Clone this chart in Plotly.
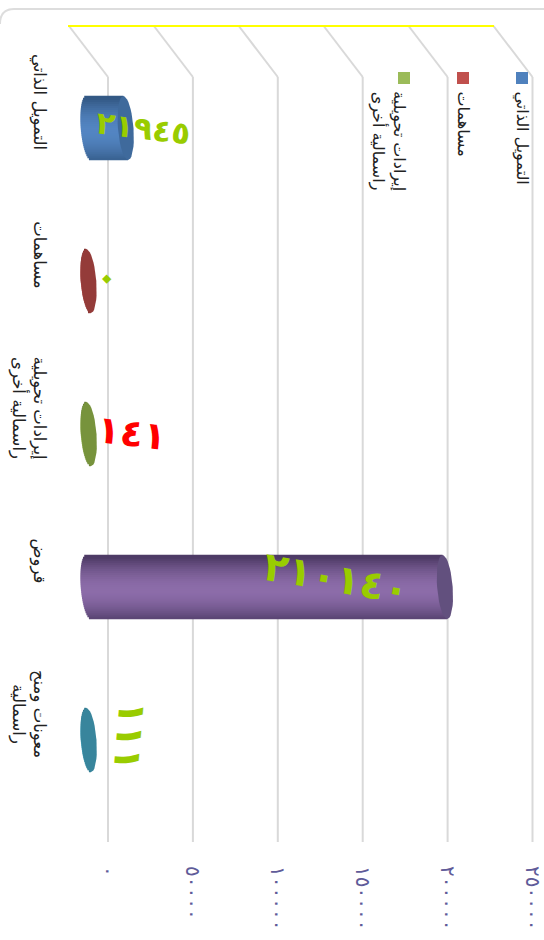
import math
import plotly.graph_objects as go

# ---- data ----
categories = ["التمويل الذاتي", "مساهمات", "إيرادات تحويلية<br>راسمالية أخرى", "قروض", "معونات ومنح<br>راسمالية"]
values = [21945, 0, 141, 210140, 111]
tick_values = [0, 50000, 100000, 150000, 200000, 250000]
legend_labels = categories[:3]

# ---- styles ----
body_mid = ["#5385C2", "#C0504D", "#9BBB59", "#8C6CA9", "#4BACC6"]
body_edge = ["#335985", "#7F3331", "#5F7530", "#4E3B66", "#276F82"]
cap_color = ["#3F6A9C", "#943B39", "#77933C", "#62507E", "#38859C"]
legend_colors = ["#4F81BD", "#C0504D", "#9BBB59"]
label_colors = ["#99CC00", "#99CC00", "#FF0000", "#99CC00", "#99CC00"]
label_sizes = [31, 38, 38, 40, 38]
label_angles = [7, 45, 7, 10, 95]
label_shift_px = [(18, 0), (19.5, 4), (43, 1), (-109, 9), (41, 4)]
FONT = "DejaVu Sans"
W, H = 544, 940
AR = str.maketrans("0123456789", "٠١٢٣٤٥٦٧٨٩")


def ar(n):
    return str(n).translate(AR)


def px(x):
    return x / W


def py(y):
    return 1 - y / H


def lerp_hex(a, b, f):
    ca = [int(a[i:i + 2], 16) for i in (1, 3, 5)]
    cb = [int(b[i:i + 2], 16) for i in (1, 3, 5)]
    return "#%02x%02x%02x" % tuple(round(p + (q - p) * f) for p, q in zip(ca, cb))


UNITS_PER_PX = 250000 / 424.0
BAND_PX = 153.0
RX = 7.8 * UNITS_PER_PX
SKEW = 2.4 * UNITS_PER_PX
RY = 32.0 / BAND_PX
STRIPS = 32

b_y, b_x, b_base, b_w, b_col = [], [], [], [], []
for i, v in enumerate(values):
    for k in range(STRIPS):
        t = -1 + (2 * k + 1) / STRIPS
        left = SKEW * t - RX * math.sqrt(max(0, 1 - t * t))
        right = v + SKEW * t
        b_y.append(i + t * RY)
        b_base.append(left)
        b_x.append(right - left)
        b_w.append(2 * RY / STRIPS * 1.2)
        b_col.append(lerp_hex(body_edge[i], body_mid[i], 1 - min(1, abs(t - 0.1)) ** 1.8))

fig = go.Figure()
# grid plane (first subplot, behind the bars)
fig.add_trace(go.Scatter(x=tick_values, y=[0] * len(tick_values), mode="markers", marker=dict(opacity=0),
                         xaxis="x", yaxis="y", hoverinfo="skip", showlegend=False))
fig.add_trace(go.Bar(y=b_y, x=b_x, base=b_base, width=b_w, orientation="h", marker=dict(color=b_col, line=dict(width=0)),
                     xaxis="x2", yaxis="y2", hoverinfo="skip", showlegend=False))
for i, v in enumerate(values):
    ts = [j / 40 * 2 * math.pi for j in range(41)]
    fig.add_trace(go.Scatter(
        x=[v + RX * math.cos(a) + SKEW * math.sin(a) for a in ts],
        y=[i + RY * math.sin(a) for a in ts],
        mode="lines", fill="toself", fillcolor=cap_color[i], line=dict(width=0),
        xaxis="x2", yaxis="y2", hoverinfo="skip", showlegend=False))

shapes = []
GRID = "#D9D9D9"
for tv in tick_values:
    shapes.append(dict(type="line", layer="below", xref="x", x0=tv, x1=tv, yref="paper", y0=py(842), y1=py(77),
                       line=dict(color=GRID, width=2)))
    shapes.append(dict(type="line", layer="below", xref="x", xsizemode="pixel", xanchor=tv, x0=-39, x1=0,
                       yref="paper", ysizemode="pixel", yanchor=py(77), y0=51, y1=0,
                       line=dict(color=GRID, width=2)))
shapes.append(dict(type="line", layer="below", xref="paper", yref="paper", x0=px(68), x1=px(494), y0=py(26), y1=py(26),
                   line=dict(color="#FFFF00", width=2)))
# chart frame
shapes.append(dict(type="path", layer="below", xref="paper", yref="paper",
                   path=f"M {px(0)},{py(24)} Q {px(0)},{py(9)} {px(14)},{py(9)} L {px(544)},{py(9)}",
                   line=dict(color="#DDDDDD", width=2)))

annotations = []
for i, v in enumerate(values):
    dx, dy = label_shift_px[i]
    annotations.append(dict(text="<b>" + ar(v) + "</b>", x=v, y=i, xref="x2", yref="y2", xshift=dx, yshift=dy,
                            showarrow=False, textangle=label_angles[i],
                            font=dict(family=FONT, size=label_sizes[i], color=label_colors[i])))

legend_x = [521, 463, 388]
legend_sw = [522, 463, 404]
for lab, col, lx, sx in zip(legend_labels, legend_colors, legend_x, legend_sw):
    shapes.append(dict(type="rect", xref="paper", yref="paper", x0=px(sx - 6), x1=px(sx + 6), y0=py(84), y1=py(72),
                       fillcolor=col, line=dict(width=0)))
    annotations.append(dict(text=lab, xref="paper", yref="paper", x=px(lx), y=py(89), xanchor="center", yanchor="top",
                            showarrow=False, textangle=90, font=dict(family=FONT, size=16, color="#222222")))

LEFT_PX = 18.5 * UNITS_PER_PX
GRID_UNITS = 250000 / 424.5
fig.update_layout(
    width=W, height=H, margin=dict(l=0, r=0, t=0, b=0, autoexpand=False), paper_bgcolor="white",
    plot_bgcolor="rgba(0,0,0,0)",
    showlegend=False, barmode="overlay", shapes=shapes, annotations=annotations,
    xaxis=dict(domain=[px(60), px(540)], range=[-48 * GRID_UNITS, 250000 + 7.5 * GRID_UNITS], tickmode="array",
               tickvals=tick_values,
               ticktext=[ar(t) for t in tick_values], tickangle=90, showgrid=False, ticklabeloverflow="allow",
               zeroline=False, showline=False, ticks="outside", ticklen=19, tickcolor="rgba(0,0,0,0)",
               tickfont=dict(family=FONT, size=20, color="#5F5B99"), anchor="y"),
    yaxis=dict(domain=[py(842), py(77)], range=[0, 1], visible=False, anchor="x"),
    xaxis2=dict(domain=[px(70), px(512.5)], range=[-LEFT_PX, 250000], visible=False, anchor="y2"),
    yaxis2=dict(domain=[py(816.5), py(51.5)], range=[4.5, -0.5], tickmode="array",
                tickvals=[i - 23.5 / BAND_PX for i in range(len(categories))], ticktext=categories, tickangle=90,
                ticklabeloverflow="allow",
                showgrid=False, zeroline=False, showline=False, ticks="outside", ticklen=15,
                tickcolor="rgba(0,0,0,0)", tickfont=dict(family=FONT, size=16.5, color="#222222"), anchor="x2"),
)
fig.write_html("out.html", config=dict(displayModeBar=False), post_script="document.body.style.margin='0';")
